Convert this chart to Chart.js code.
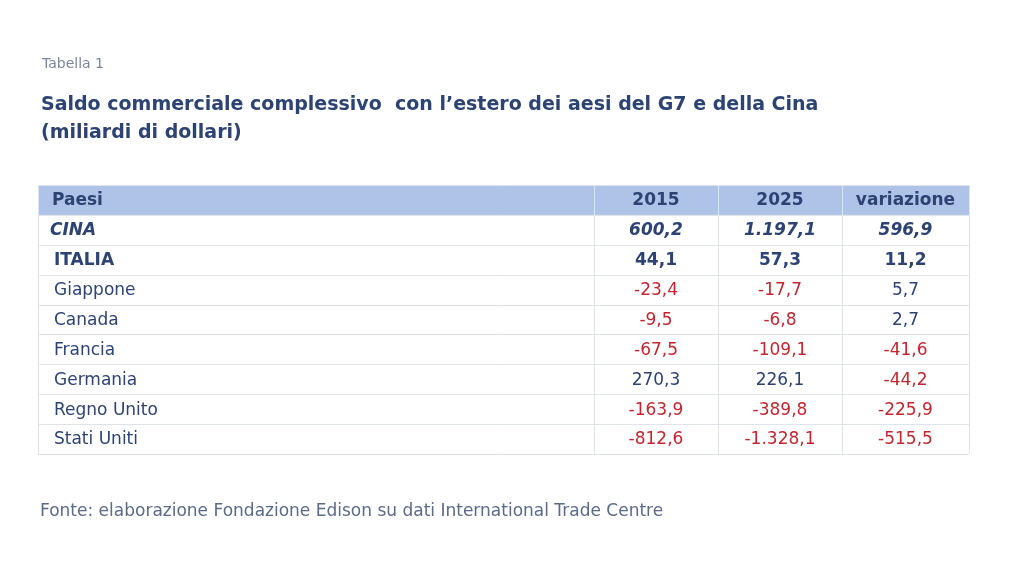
<!DOCTYPE html>
<html>
<head>
<meta charset="utf-8">
<script src="https://cdn.jsdelivr.net/npm/chart.js@4.4.0/dist/chart.umd.min.js"></script>
<style>
  html, body { margin: 0; padding: 0; background: #fff; }
  #wrap { width: 1024px; height: 576px; position: relative; }
</style>
</head>
<body>
<div id="wrap"><canvas id="tab"></canvas></div>
<script>
// data
const columns = ['Paesi', '2015', '2025', 'variazione'];
const countries = ['CINA', 'ITALIA', 'Giappone', 'Canada', 'Francia', 'Germania', 'Regno Unito', 'Stati Uniti'];
const values2015 = [600.2, 44.1, -23.4, -9.5, -67.5, 270.3, -163.9, -812.6];
const values2025 = [1197.1, 57.3, -17.7, -6.8, -109.1, 226.1, -389.8, -1328.1];
const variazione = [596.9, 11.2, 5.7, 2.7, -41.6, -44.2, -225.9, -515.5];

const fmt = v => v.toLocaleString('it-IT', { minimumFractionDigits: 1, maximumFractionDigits: 1 });
const colEdges = [0, 556, 680, 804, 931];
const BLUE = '#2c4373', RED = '#c3262f', FONT = '"DejaVu Sans", sans-serif';

const tablePlugin = {
    id: 'tablePlugin',
    afterDraw(chart) {
        const { ctx, scales: { x, y } } = chart;
        const rowH = Math.abs(y.getPixelForValue(1) - y.getPixelForValue(0));
        const top = y.getPixelForValue(0);
        ctx.save();
        // header band
        ctx.fillStyle = '#aec3e7';
        ctx.fillRect(x.getPixelForValue(0), top, x.getPixelForValue(931) - x.getPixelForValue(0), rowH);
        // grid
        ctx.strokeStyle = '#dfe3ea';
        ctx.lineWidth = 1;
        for (let r = 0; r <= countries.length + 1; r++) {
            const py = Math.round(y.getPixelForValue(r)) + 0.5;
            ctx.beginPath(); ctx.moveTo(x.getPixelForValue(0), py); ctx.lineTo(x.getPixelForValue(931), py); ctx.stroke();
        }
        colEdges.forEach(e => {
            const px = Math.round(x.getPixelForValue(e)) + 0.5;
            ctx.beginPath(); ctx.moveTo(px, top); ctx.lineTo(px, y.getPixelForValue(countries.length + 1)); ctx.stroke();
        });
        // header text
        ctx.textBaseline = 'middle';
        ctx.fillStyle = BLUE;
        ctx.font = `bold 17px ${FONT}`;
        const midY = r => (y.getPixelForValue(r) + y.getPixelForValue(r + 1)) / 2 + 1;
        columns.forEach((c, i) => {
            if (i === 0) { ctx.textAlign = 'left'; ctx.fillText(c, x.getPixelForValue(14), midY(0)); }
            else { ctx.textAlign = 'center'; ctx.fillText(c, x.getPixelForValue((colEdges[i] + colEdges[i + 1]) / 2), midY(0)); }
        });
        // body
        countries.forEach((name, k) => {
            const r = k + 1;
            let style = '';
            if (k === 0) style = 'italic bold ';
            else if (k === 1) style = 'bold ';
            ctx.font = `${style}17px ${FONT}`;
            ctx.textAlign = 'left';
            ctx.fillStyle = BLUE;
            ctx.fillText(name, x.getPixelForValue(k === 0 ? 12 : 16), midY(r));
            [values2015[k], values2025[k], variazione[k]].forEach((v, i) => {
                ctx.textAlign = 'center';
                ctx.fillStyle = v < 0 ? RED : BLUE;
                ctx.fillText(fmt(v), x.getPixelForValue((colEdges[i + 1] + colEdges[i + 2]) / 2), midY(r));
            });
        });
        // titles
        ctx.textAlign = 'left';
        ctx.textBaseline = 'alphabetic';
        ctx.fillStyle = '#7a8699';
        ctx.font = `14px ${FONT}`;
        ctx.fillText('Tabella 1', 42, 68);
        ctx.fillStyle = BLUE;
        ctx.font = `bold 19px ${FONT}`;
        ctx.fillText('Saldo commerciale complessivo  con l\u2019estero dei aesi del G7 e della Cina', 41, 110);
        ctx.fillText('(miliardi di dollari)', 41, 138);
        ctx.fillStyle = '#5a6b88';
        ctx.font = `17px ${FONT}`;
        ctx.fillText('Fonte: elaborazione Fondazione Edison su dati International Trade Centre', 40, 516);
        ctx.restore();
    }
};

new Chart(document.getElementById('tab'), {
    type: 'scatter',
    data: { datasets: [{ data: [], pointRadius: 0 }] },
    options: {
        responsive: true,
        maintainAspectRatio: false,
        animation: false,
        layout: { padding: { left: 38, right: 55, top: 185, bottom: 122 } },
        plugins: { legend: { display: false }, tooltip: { enabled: false } },
        scales: {
            x: { type: 'linear', min: 0, max: 931, display: false },
            y: { type: 'linear', min: 0, max: countries.length + 1, reverse: true, display: false }
        }
    },
    plugins: [tablePlugin]
});
</script>
</body>
</html>
